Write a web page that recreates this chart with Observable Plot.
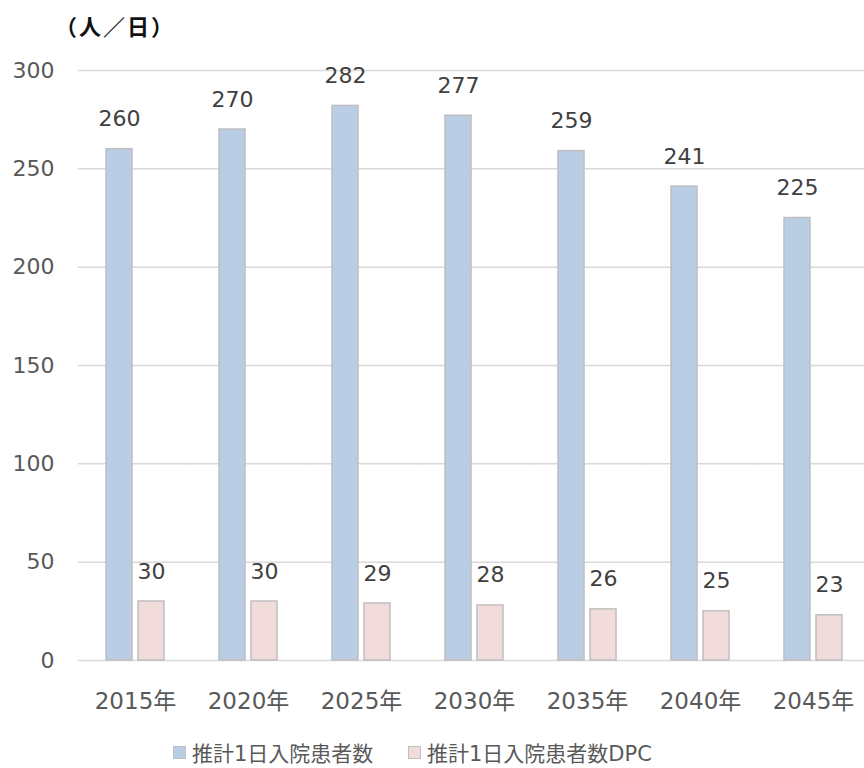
<!DOCTYPE html>
<html>
<head>
<meta charset="utf-8">
<script src="https://cdn.jsdelivr.net/npm/d3@7"></script>
<script src="https://cdn.jsdelivr.net/npm/@observablehq/plot@0.6"></script>
<style>
  html, body { margin: 0; padding: 0; background: #fff; }
  body { width: 864px; height: 768px; overflow: hidden; font-family: "DejaVu Sans", "Noto Sans CJK JP", sans-serif; }
  #title { height: 40px; position: relative; }
  #title span { position: absolute; left: 55px; top: 9px; font-size: 22px; letter-spacing: 2px; font-weight: bold; color: #111; font-family: "Noto Sans CJK JP", sans-serif; }
  #legend { position: relative; height: 48px; font-size: 21px; color: #595959; }
  .item { position: absolute; top: 17px; display: flex; align-items: center; }
  .sw { width: 11px; height: 11px; border: 1px solid #bfbfbf; margin-right: 6px; }
</style>
</head>
<body>
<div id="title"><span>（人／日）</span></div>
<div id="chart"></div>
<div id="legend"></div>
<script>
const years = ["2015年", "2020年", "2025年", "2030年", "2035年", "2040年", "2045年"];
const inpatients = [260, 270, 282, 277, 259, 241, 225];
const inpatientsDPC = [30, 30, 29, 28, 26, 25, 23];
const seriesNames = ["推計1日入院患者数", "推計1日入院患者数DPC"];
const seriesColors = ["#b9cde4", "#f2dcdb"];
const yTicks = [0, 50, 100, 150, 200, 250, 300];

const data = [];
years.forEach((yr, i) => {
  data.push({year: yr, series: seriesNames[0], value: inpatients[i]});
  data.push({year: yr, series: seriesNames[1], value: inpatientsDPC[i]});
});

const chart = Plot.plot({
  width: 864,
  height: 680,
  marginTop: 30,
  marginBottom: 60,
  marginLeft: 77,
  marginRight: -6,
  style: {fontFamily: '"DejaVu Sans", "Noto Sans CJK JP", sans-serif', fontSize: "22px", color: "#595959", background: "#fff"},
  fx: {domain: years, paddingInner: 0.488, paddingOuter: 0.244},
  x: {domain: seriesNames, paddingInner: 0.1875, paddingOuter: 0, axis: null},
  y: {domain: [0, 300]},
  color: {domain: seriesNames, range: seriesColors},
  marks: [
    Plot.ruleY(yTicks, {stroke: "#d9d9d9", strokeWidth: 1.5, insetLeft: -28, insetRight: -28}),
    Plot.axisY({ticks: yTicks, tickSize: 0, tickPadding: 52, label: null, fontSize: 22}),
    Plot.axisFx({anchor: "bottom", tickSize: 0, tickPadding: 32, label: null, fontSize: 23}),
    Plot.barY(data, {fx: "year", x: "series", y: "value", fill: "series", stroke: "#bfbfbf", strokeWidth: 1.5}),
    Plot.text(data, {fx: "year", x: "series", y: "value", text: d => String(d.value), dy: -30, fill: "#404040", fontSize: 22})
  ]
});
document.getElementById("chart").appendChild(chart);

const legend = document.getElementById("legend");
const lefts = [173, 408];
seriesNames.forEach((name, i) => {
  const item = document.createElement("div");
  item.className = "item";
  item.style.left = lefts[i] + "px";
  const sw = document.createElement("div");
  sw.className = "sw";
  sw.style.background = seriesColors[i];
  const t = document.createElement("span");
  t.textContent = name;
  item.appendChild(sw);
  item.appendChild(t);
  legend.appendChild(item);
});
</script>
</body>
</html>
